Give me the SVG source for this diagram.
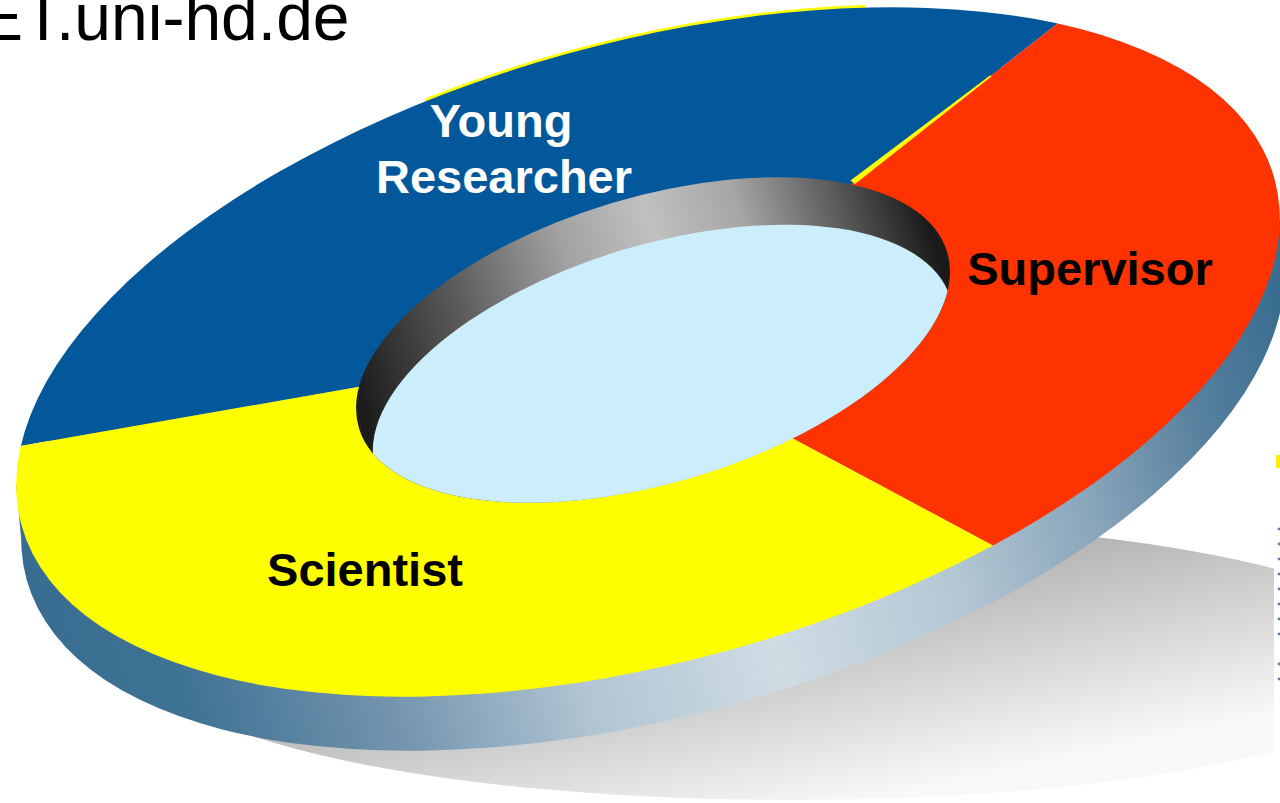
<svg xmlns="http://www.w3.org/2000/svg" width="1280" height="803" viewBox="0 0 1280 803">
  <style>
    .lbl { font-family: "Liberation Sans", Arial, sans-serif; font-weight: bold; font-size: 47px; }
    .hdr { font-family: "Liberation Sans", Arial, sans-serif; font-size: 66px; fill: #000; }
  </style>
  <defs>
    <linearGradient id="shadowGrad" gradientUnits="userSpaceOnUse" x1="760" y1="530" x2="820" y2="810">
      <stop offset="0" stop-color="#9c9c9c"/>
      <stop offset="1" stop-color="#f8f8f8"/>
    </linearGradient>
    <linearGradient id="sideGrad" gradientUnits="userSpaceOnUse" x1="0" y1="0" x2="1280" y2="0">
      <stop offset="0" stop-color="#386d91"/>
      <stop offset="0.1" stop-color="#3f7395"/>
      <stop offset="0.25" stop-color="#7494ae"/>
      <stop offset="0.4" stop-color="#b1c5d3"/>
      <stop offset="0.55" stop-color="#cfdce4"/>
      <stop offset="0.7" stop-color="#b4c7d4"/>
      <stop offset="0.82" stop-color="#88a5ba"/>
      <stop offset="0.92" stop-color="#57809e"/>
      <stop offset="1" stop-color="#3a6e91"/>
    </linearGradient>
    <linearGradient id="wallGrad" gradientUnits="userSpaceOnUse" x1="356" y1="0" x2="950" y2="0">
      <stop offset="0" stop-color="#1c1c1c"/>
      <stop offset="0.2" stop-color="#5a5a5a"/>
      <stop offset="0.4" stop-color="#a2a2a2"/>
      <stop offset="0.55" stop-color="#c0c0c0"/>
      <stop offset="0.7" stop-color="#a6a6a6"/>
      <stop offset="0.85" stop-color="#606060"/>
      <stop offset="1" stop-color="#1a1a1a"/>
    </linearGradient>
    <clipPath id="outerTop">
      <ellipse cx="648" cy="352" rx="650" ry="309" transform="rotate(-15.5 648 352)"/>
    </clipPath>
    <clipPath id="innerTop">
      <ellipse cx="653" cy="340" rx="307" ry="143" transform="rotate(-16.65 653 340)"/>
    </clipPath>
    <clipPath id="fringeBand">
      <rect x="425" y="0" width="440" height="140"/>
    </clipPath>
  </defs>

  <!-- floor shadow -->
  <g id="shadow">
    <ellipse cx="790" cy="660" rx="640" ry="140" fill="url(#shadowGrad)"/>
    <rect x="1274" y="440" width="6" height="363" fill="#fff"/>
  </g>

  <!-- outer side wall of the ring -->
  <g id="ring-side" fill="url(#sideGrad)">
    <ellipse cx="653" cy="406" rx="650" ry="309" transform="rotate(-15.5 653 406)"/>
    <polygon points="16.2,485.3 1279.8,218.7 1284.8,272.7 21.2,539.3"/>
  </g>

  <!-- thin yellow rim showing along the back edge -->
  <g id="rim-fringe" clip-path="url(#fringeBand)">
    <ellipse cx="647" cy="349.5" rx="650" ry="309" transform="rotate(-15.5 647 349.5)" fill="#ffff00"/>
  </g>

  <!-- top face slices -->
  <g id="slices" clip-path="url(#outerTop)">
    <g id="young-researcher">
      <polygon points="650,345 853,183 1165,-60 -60,-60 -60,460 14,447 358,387" fill="#02589a"/>
    </g>
    <g id="supervisor">
      <polygon points="650,345 853,183 1165,-60 1340,-60 1340,731 790,437" fill="#ff3300"/>
    </g>
    <g id="scientist">
      <polygon points="650,345 790,437 1340,731 1340,860 -60,860 -60,460 358,387" fill="#ffff00"/>
    </g>
  </g>

  <!-- yellow seam between the blue and red slices -->
  <polygon points="850.5,180.5 855,184 992,76 990,75.5" fill="#ffff00"/>

  <!-- centre hole: inner wall and floor -->
  <g id="hole">
    <ellipse cx="653" cy="340" rx="307" ry="143" transform="rotate(-16.65 653 340)" fill="url(#wallGrad)"/>
    <g clip-path="url(#innerTop)">
      <ellipse cx="663" cy="384" rx="300" ry="140" transform="rotate(-16.65 663 384)" fill="#cceefc"/>
    </g>
  </g>

  <!-- labels -->
  <g id="labels" class="lbl">
    <text x="501" y="137" text-anchor="middle" fill="#ffffff">Young</text>
    <text x="504" y="193" text-anchor="middle" fill="#ffffff">Researcher</text>
    <text x="1090" y="285" text-anchor="middle" fill="#000">Supervisor</text>
    <text x="365" y="586" text-anchor="middle" fill="#000">Scientist</text>
  </g>

  <!-- page header -->
  <text class="hdr" x="-21" y="40">ET.uni-hd.de</text>

  <!-- edge of legend -->
  <g id="legend-edge">
    <rect x="1276" y="455" width="4" height="13" fill="#ffee00"/>
    <g fill="#4f7fae">
      <circle cx="1279" cy="529" r="1.4"/>
      <circle cx="1279" cy="544" r="1.4"/>
      <circle cx="1279" cy="559" r="1.4"/>
      <circle cx="1279" cy="574" r="1.4"/>
      <circle cx="1279" cy="589" r="1.4"/>
      <circle cx="1279" cy="604" r="1.4"/>
      <circle cx="1279" cy="619" r="1.4"/>
      <circle cx="1279" cy="634" r="1.4"/>
      <circle cx="1279" cy="664" r="1.4"/>
      <circle cx="1279" cy="679" r="1.4"/>
    </g>
  </g>
</svg>
